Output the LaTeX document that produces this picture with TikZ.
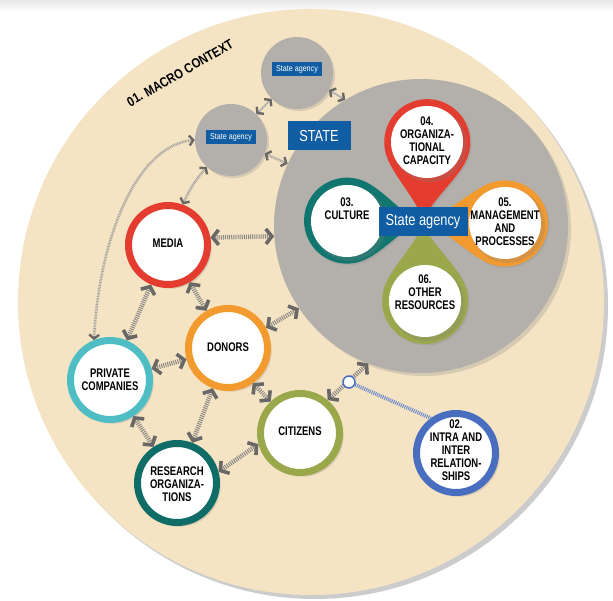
\documentclass[tikz,border=0pt]{standalone}
\usepackage{fontspec}
\setmainfont{Liberation Sans}
\newfontfamily\cond[FakeStretch=0.76]{Liberation Sans}
\newfontfamily\condw[FakeStretch=0.84]{Liberation Sans}
\newfontfamily\condr[FakeStretch=0.80]{Liberation Sans}
\usetikzlibrary{arrows.meta,shadows}
\definecolor{beige}{HTML}{F5E4C4}
\definecolor{stategray}{HTML}{B3AFAA}
\definecolor{redc}{HTML}{E43D30}
\definecolor{orangec}{HTML}{F29A2E}
\definecolor{cyanc}{HTML}{4EBEC4}
\definecolor{olivec}{HTML}{9AA84B}
\definecolor{tealc}{HTML}{11766F}
\definecolor{darkteal}{HTML}{0F6C66}
\definecolor{bluec}{HTML}{4A6EBF}
\definecolor{labelblue}{HTML}{105DA3}
\definecolor{arrowc}{HTML}{6A6866}
\definecolor{hatchc}{HTML}{8A8784}
\newcommand\lbl{\cond\bfseries\fontsize{12.5}{13}\selectfont}
\newcommand\drawpetal[3]{%
  \fill[#3, shift={(423,222)}, rotate=#2, drop shadow={shadow xshift=1.5pt,shadow yshift=-1.5pt,opacity=0.2}]
    (0,0) .. controls (18,4) and ({#1-38.1},29.7) .. ({#1-18.2},39)
    arc[start angle=115,end angle=-115,radius=43]
    .. controls ({#1-38.1},-29.7) and (18,-4) .. cycle;}
\tikzset{
  softshadow/.style={drop shadow={shadow xshift=2.5pt,shadow yshift=-2.5pt,opacity=0.25,shadow scale=1.04}},
  ring/.style={circle, draw=#1, line width=7pt, fill=white, minimum size=79pt,
    inner sep=0pt, align=center, font=\lbl, softshadow},
  whitedisc/.style={circle, fill=white, minimum size=72pt, inner sep=0pt, softshadow},
  lbltext/.style={align=center, font=\lbl, inner sep=0pt},
  agencydisc/.style={circle, fill=stategray, minimum size=72pt, inner sep=0pt,
    drop shadow={shadow xshift=2pt,shadow yshift=-2pt,opacity=0.25}},
  bluelabel/.style={fill=labelblue, text=white, inner sep=0pt},
  chev/.tip={Straight Barb[length=6pt,width=15pt,line width=3.6pt,color=arrowc]},
  smallchev/.tip={Straight Barb[length=4pt,width=10pt,line width=2.4pt,color=arrowc]},
  hatched/.style={draw=hatchc, line width=4.5pt, dash pattern=on 1pt off 1.1pt, chev-chev},
  thinhatched/.style={draw=hatchc!80, line width=2.6pt, dash pattern=on 0.8pt off 0.8pt, smallchev-smallchev},
  plainlink/.style={draw=gray!60, line width=1.8pt, smallchev-smallchev},
  bluehatch/.style={draw=bluec!80, line width=3.8pt, dash pattern=on 1pt off 1pt},
}
\begin{document}
\begin{tikzpicture}[x=1pt,y=-1pt]
\useasboundingbox (0,0) rectangle (613,601);
\fill[white] (0,0) rectangle (613,601);
\shade[top color=gray!18,bottom color=white] (0,0) rectangle (613,12);
% macro context
\node[circle, fill=beige, minimum size=586pt, inner sep=0pt,
  drop shadow={shadow xshift=4pt,shadow yshift=-4pt,fill=black!20,opacity=1}] (macro) at (311,302) {};
\node[font=\condw\bfseries\fontsize{13.5}{14}\selectfont, rotate=30] (mctx) at (180,73) {01. MACRO CONTEXT};
% state
\node[circle, fill=stategray, minimum size=294pt, inner sep=0pt,
  drop shadow={shadow xshift=3pt,shadow yshift=-3pt,opacity=0.25}] (state) at (421,226) {};
% petals
\drawpetal{79}{-88.5}{olivec}
\drawpetal{76}{179}{tealc}
\drawpetal{82}{-1}{orangec}
\drawpetal{80}{87}{redc}
\node[whitedisc] (c04) at (427,142) {};
\node[whitedisc] (c03) at (347,221) {};
\node[whitedisc] (c05) at (505,223) {};
\node[whitedisc] (c06) at (425,301) {};
\node[lbltext] (t04) at (427,141) {04.\\ORGANIZA-\\TIONAL\\CAPACITY};
\node[lbltext] (t03) at (347,209) {03.\\CULTURE};
\node[lbltext] (t05) at (505,222) {05.\\MANAGEMENT\\AND\\PROCESSES};
\node[lbltext] (t06) at (425,292) {06.\\OTHER\\RESOURCES};
\node[bluelabel, minimum width=89pt, minimum height=29pt,
  font=\condr\fontsize{16}{18}\selectfont] (centre) at (423,222) {State agency};
\node[bluelabel, minimum width=63pt, minimum height=29pt,
  font=\condr\fontsize{16}{18}\selectfont] (statelbl) at (319,136) {STATE};
% state agencies
\node[agencydisc] (sa1) at (297,73) {};
\node[agencydisc] (sa2) at (231,140) {};
\node[bluelabel, minimum width=50pt, minimum height=14pt,
  font=\condw\fontsize{8.5}{9}\selectfont] (sa1l) at (297,69) {State agency};
\node[bluelabel, minimum width=50pt, minimum height=14pt,
  font=\condw\fontsize{8.5}{9}\selectfont] (sa2l) at (231,137) {State agency};
% actors
\node[ring=redc] (media) at (168,245) {};
\node[ring=orangec] (donors) at (228,348) {};
\node[ring=cyanc] (private) at (110,380) {};
\node[ring=olivec] (citizens) at (300,433) {};
\node[ring=darkteal] (research) at (177,483) {};
\node[ring=bluec] (intra) at (456,453) {};
\node[lbltext] (tmedia) at (168,243) {MEDIA};
\node[lbltext] (tdonors) at (228,347) {DONORS};
\node[lbltext] (tprivate) at (110,380) {PRIVATE\\COMPANIES};
\node[lbltext] (tcitizens) at (300,431) {CITIZENS};
\node[lbltext] (tresearch) at (177,484) {RESEARCH\\ORGANIZA-\\TIONS};
\node[lbltext] (tintra) at (456,450) {02.\\INTRA AND\\INTER\\RELATION-\\SHIPS};
% connectors
\draw[plainlink] (sa1) -- (sa2);
\draw[plainlink] (sa1.-28) -- (state.121);
\draw[thinhatched] (sa2.-22) -- (state.155);
\draw[thinhatched] (sa2.228) to[bend right=8] (media.70);
\draw[thinhatched] (sa2.180) .. controls (140,145) and (100,230) .. (private.112);
\draw[hatched] (media.10) -- (state.184);
\draw[hatched] (media) -- (donors);
\draw[hatched] (media) -- (private);
\draw[hatched] (donors.28) -- (state.214);
\draw[hatched] (donors) -- (private);
\draw[hatched] (donors.-55) -- (citizens.133);
\draw[hatched] (donors) -- (research);
\draw[hatched] (private) -- (research);
\draw[hatched] (research.15) -- (citizens.195);
\draw[hatched] (citizens.50) -- (state.249);
\node[circle, draw=bluec, line width=1.5pt, fill=white, minimum size=12pt, inner sep=0pt] (knot) at (349,382) {};
\draw[bluehatch] (knot) -- (intra.126);
\end{tikzpicture}
\end{document}
